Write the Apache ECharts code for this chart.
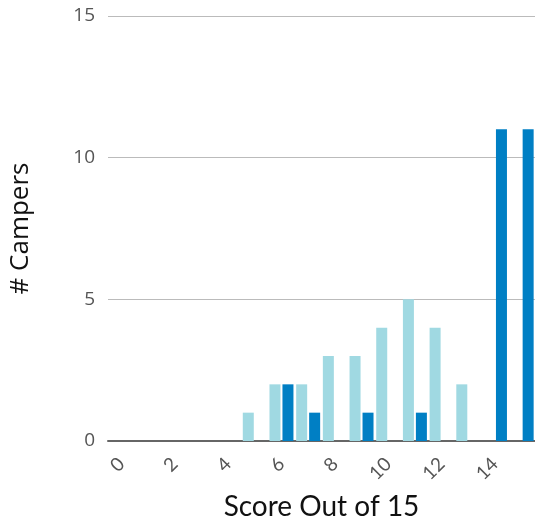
<!DOCTYPE html>
<html><head><meta charset="utf-8">
<script src="https://cdn.jsdelivr.net/npm/echarts@6/dist/echarts.min.js"></script>
<style>html,body{margin:0;padding:0;background:#fff}#c{width:535px;height:520px}</style>
</head><body><div id="c"></div>
<script>
const categories = ['0','1','2','3','4','5','6','7','8','9','10','11','12','13','14','15'];
const preScores  = [0,0,0,0,0,1,2,2,3,3,4,5,4,2,0,0];
const postScores = [0,0,0,0,0,0,2,1,0,1,0,1,0,0,11,11];
const yTicks = [0,5,10,15];

const chart = echarts.init(document.getElementById('c'));
chart.setOption({
  animation:false,
  grid:{left:108,right:0,top:16,bottom:79,containLabel:false,outerBoundsMode:'none'},
  xAxis:{
    type:'category', data:categories,
    name:'Score Out of 15', nameLocation:'middle', nameGap:52,
    nameTextStyle:{fontFamily:'Lato',fontSize:28,color:'#111'},
    axisLine:{lineStyle:{color:'#666',width:2}},
    axisTick:{show:false},
    axisLabel:{interval:1,rotate:45,fontFamily:'Lato',fontSize:19,color:'#555',margin:20}
  },
  yAxis:{
    type:'value', min:0, max:15, interval:5,
    name:'# Campers', nameLocation:'middle', nameGap:74,
    nameTextStyle:{fontFamily:'Open Sans',fontSize:26,color:'#111'},
    axisLine:{show:false}, axisTick:{show:false},
    axisLabel:{fontFamily:'Open Sans',fontSize:19,color:'#555',margin:13},
    splitLine:{lineStyle:{color:'#bbb',width:1}}
  },
  series:[
    {type:'bar',name:'Pre',data:preScores,barWidth:11,barGap:'18%',itemStyle:{color:'#a0d9e2'}},
    {type:'bar',name:'Post',data:postScores,barWidth:11,itemStyle:{color:'#007fc4'}}
  ]
});
</script></body></html>
